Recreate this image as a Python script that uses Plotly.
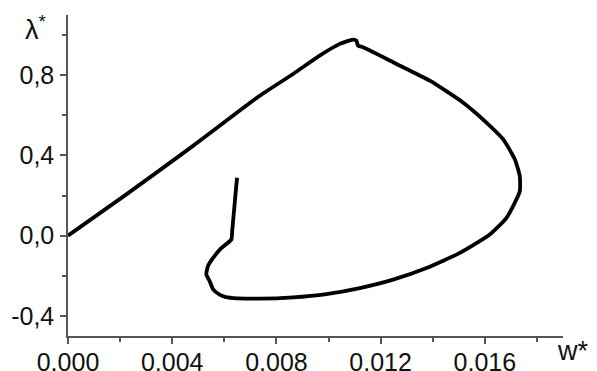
import plotly.graph_objects as go

w_vals = [0.0, 0.00224, 0.0048, 0.00736, 0.00864, 0.00966, 0.01043, 0.01094,
          0.01107, 0.01113, 0.01133, 0.01261, 0.01389, 0.01516, 0.01606, 0.0167,
          0.01715, 0.01734, 0.01734, 0.01683, 0.01619, 0.01504, 0.01376, 0.01248,
          0.0112, 0.00992, 0.00864, 0.00736, 0.00650, 0.00606, 0.00582, 0.00557,
          0.00544, 0.00531, 0.00537, 0.00557, 0.00589, 0.00627, 0.00630,
          0.00646, 0.00649]
lam_vals = [0.0, 0.206, 0.4475, 0.6975, 0.806, 0.8975, 0.956, 0.9775,
            0.9725, 0.9475, 0.939, 0.856, 0.7725, 0.664, 0.564, 0.481,
            0.381, 0.2975, 0.22, 0.089, 0.006, -0.086, -0.161, -0.219,
            -0.261, -0.291, -0.3075, -0.314, -0.312, -0.306, -0.294, -0.2675,
            -0.2275, -0.194, -0.1525, -0.111, -0.061, -0.019, 0.02,
            0.25, 0.289]

x_tickvals = [0.0, 0.004, 0.008, 0.012, 0.016]
x_ticktext = ["0,000", "0,004", "0,008", "0,012", "0,016"]
y_tickvals = [-0.4, 0.0, 0.4, 0.8]
y_ticktext = ["-0,4", "0,0", "0,4", "0,8"]

x_range = [0.0, 0.019]
y_range = [-0.5, 1.1]

fig = go.Figure()
fig.add_trace(go.Scatter(x=w_vals, y=lam_vals, mode="lines",
                         line=dict(color="black", width=3.8, shape="spline",
                                   smoothing=0.5),
                         showlegend=False))

axis_col = "#555555"
txt_col = "#111111"
fs = 25
fig.update_layout(
    width=597, height=371,
    margin=dict(l=60, r=42, t=7, b=43),
    paper_bgcolor="white", plot_bgcolor="white",
    font=dict(family="Liberation Sans, Arial, sans-serif", size=fs, color=txt_col),
    xaxis=dict(range=x_range, showgrid=False, zeroline=False, showline=True,
               linecolor=axis_col, linewidth=1.5, ticks="outside", ticklen=6,
               tickwidth=1.5, tickcolor=axis_col, tickmode="array",
               tickvals=x_tickvals, ticktext=x_ticktext, automargin=False,
               tickfont=dict(size=fs, color=txt_col), ticklabelstandoff=-3,
               minor=dict(tickmode="linear", tick0=0, dtick=0.002, ticks="outside",
                          ticklen=4, tickwidth=1.5, tickcolor=axis_col,
                          showgrid=False)),
    yaxis=dict(range=y_range, showgrid=False, zeroline=False, showline=True,
               linecolor=axis_col, linewidth=1.5, ticks="outside", ticklen=6,
               tickwidth=1.5, tickcolor=axis_col, tickmode="array",
               tickvals=y_tickvals, ticktext=y_ticktext, automargin=False,
               tickfont=dict(size=fs, color=txt_col), ticklabelstandoff=1,
               minor=dict(tickmode="linear", tick0=0, dtick=0.2, ticks="outside",
                          ticklen=4, tickwidth=1.5, tickcolor=axis_col,
                          showgrid=False)),
    annotations=[
        dict(text="λ<sup>*</sup>", xref="paper", yref="paper", x=-0.09, y=0.96,
             xanchor="left", yanchor="middle", showarrow=False,
             font=dict(size=27, color=txt_col)),
        dict(text="w*", xref="paper", yref="paper", x=0.984, y=0.0,
             xanchor="left", yanchor="top", showarrow=False, yshift=2,
             font=dict(size=27, color=txt_col)),
    ],
)

fig.write_html("out.html")
